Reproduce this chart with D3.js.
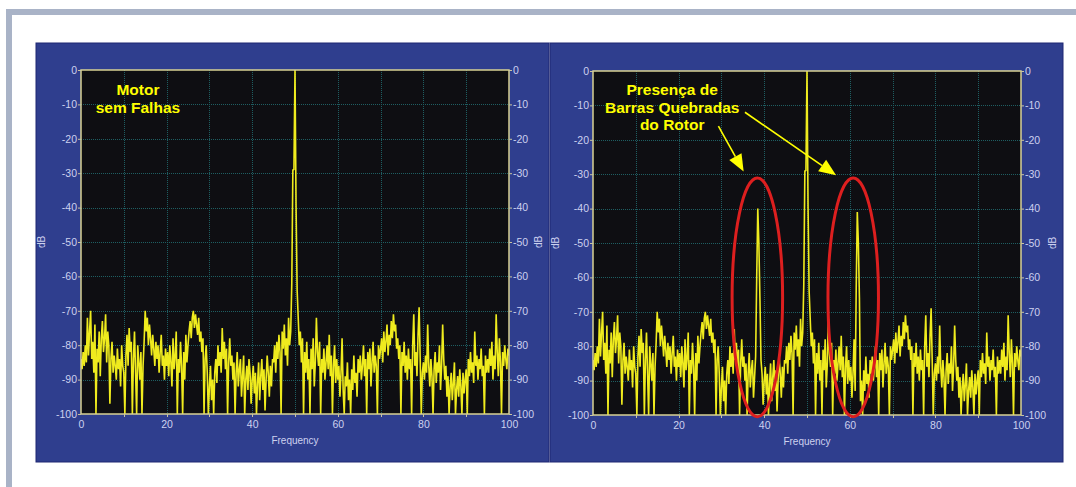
<!DOCTYPE html>
<html>
<head>
<meta charset="utf-8">
<script src="https://cdn.jsdelivr.net/npm/d3@7"></script>
<style>
  body { margin: 0; background: #fff; }
  svg { display: block; }
</style>
</head>
<body>
<div id="chart"></div>
<script>
// spectrum, 0.25 Hz per sample, 0..100 Hz
const freqStep = 0.25;
const healthyDb = [
  -84,-87,-82,-86,-80,-85,-72,-83,-76,-70,-84,-79,-88,-74,-100,-81,-85,-76,-89,-78,
  -73,-82,-78,-71,-85,-76,-80,-97,-84,-79,-88,-83,-86,-90,-81,-87,-84,-92,-80,-86,
  -88,-100,-83,-77,-86,-75,-82,-79,-100,-84,-76,-88,-100,-80,-85,-90,-82,-100,-86,-79,
  -70,-76,-72,-80,-74,-78,-83,-77,-81,-86,-79,-84,-80,-88,-82,-77,-86,-83,-90,-81,
  -86,-82,-89,-80,-85,-92,-78,-87,-83,-76,-100,-84,-88,-79,-86,-100,-82,-90,-77,-85,
  -80,-76,-73,-78,-72,-70,-75,-71,-74,-77,-72,-79,-76,-82,-78,-100,-84,-80,-88,-100,
  -92,-86,-96,-90,-100,-88,-84,-91,-80,-86,-82,-88,-75,-84,-79,-87,-81,-100,-85,-78,
  -86,-83,-90,-85,-100,-88,-82,-92,-87,-84,-95,-89,-83,-100,-90,-86,-93,-84,-88,-97,
  -90,-86,-94,-88,-100,-91,-85,-96,-89,-84,-93,-87,-99,-90,-83,-88,-95,-86,-92,-84,
  -85,-80,-88,-79,-84,-77,-82,-100,-76,-81,-74,-83,-78,-86,-72,-80,-76,-62,-29,-29,
  0,-40,-64,-72,-80,-76,-85,-78,-100,-82,-88,-79,-90,-84,-100,-81,-87,-78,-92,-85,
  -72,-82,-86,-79,-100,-84,-88,-81,-90,-85,-80,-87,-77,-89,-83,-100,-86,-80,-91,-84,
  -90,-86,-95,-88,-78,-93,-100,-89,-92,-85,-96,-90,-100,-87,-93,-83,-91,-88,-95,-84,
  -88,-83,-90,-86,-80,-89,-84,-100,-82,-87,-81,-92,-85,-79,-88,-83,-86,-100,-80,-84,
  -81,-78,-85,-76,-82,-79,-74,-83,-77,-80,-73,-78,-71,-76,-74,-81,-78,-84,-80,-100,
  -82,-86,-79,-88,-83,-90,-81,-87,-84,-100,-80,-71,-86,-82,-89,-77,-69,-84,-100,-88,
  -85,-90,-83,-88,-74,-86,-92,-84,-89,-100,-87,-82,-91,-85,-88,-80,-93,-86,-74,-84,
  -90,-86,-95,-89,-100,-92,-88,-96,-91,-85,-100,-93,-89,-95,-87,-92,-100,-88,-94,-90,
  -87,-100,-84,-89,-82,-88,-85,-91,-76,-86,-83,-90,-84,-87,-81,-89,-86,-100,-83,-88,
  -84,-88,-81,-86,-79,-90,-83,-87,-71,-82,-89,-78,-85,-100,-82,-86,-80,-84,-87,-81,
  -83
];

// sidebands from the broken rotor bars (right panel)
const faultFreqs = [38.25, 38.5, 38.75, 39, 61.5, 61.75, 62, 62.25];
const faultDb = [-60, -40, -50, -66, -63, -41, -50, -66];

const xTicks = [0, 20, 40, 60, 80, 100];
const yTicks = [0, -10, -20, -30, -40, -50, -60, -70, -80, -90, -100];
const gridFreqs = [10, 20, 30, 40, 50, 60, 70, 80, 90];

const healthy = healthyDb.map((db, i) => ({ freq: i * freqStep, db }));
const fault = healthy.map((d) => {
  const k = faultFreqs.indexOf(d.freq);
  return k >= 0 ? { freq: d.freq, db: faultDb[k] } : d;
});

const width = 1076;
const height = 487;

const svg = d3
  .select("#chart")
  .append("svg")
  .attr("width", width)
  .attr("height", height)
  .style("font-family", "'Liberation Sans', Arial, sans-serif");

// grey frame (top + left) of the cropped slide
svg.append("rect").attr("x", 6).attr("y", 9).attr("width", width - 6).attr("height", 6).attr("fill", "#a9b3c7");
svg.append("rect").attr("x", 6).attr("y", 9).attr("width", 6).attr("height", height - 9).attr("fill", "#a9b3c7");

const panels = [
  { x: 36, y: 43, w: 513, h: 419, plot: { left: 81, top: 70, w: 428, h: 344 }, data: healthy },
  { x: 550, y: 43, w: 513, h: 419, plot: { left: 593, top: 71, w: 428, h: 344 }, data: fault },
];

const px = (v) => Math.round(v) + 0.5;

panels.forEach((p, i) => {
  const g = svg.append("g");

  g.append("rect")
    .attr("x", p.x)
    .attr("y", p.y)
    .attr("width", p.w)
    .attr("height", p.h)
    .attr("fill", "#2f3e8e")
    .attr("stroke", "#1f2773")
    .attr("stroke-width", 1);

  const xScale = d3.scaleLinear().domain([0, 100]).range([p.plot.left, p.plot.left + p.plot.w]);
  const yScale = d3.scaleLinear().domain([-100, 0]).range([p.plot.top + p.plot.h, p.plot.top]);

  g.append("rect")
    .attr("x", p.plot.left)
    .attr("y", p.plot.top)
    .attr("width", p.plot.w)
    .attr("height", p.plot.h)
    .attr("fill", "#0e0e12");

  // grid
  g.append("g")
    .selectAll("line")
    .data(gridFreqs)
    .join("line")
    .attr("x1", (d) => px(xScale(d)))
    .attr("x2", (d) => px(xScale(d)))
    .attr("y1", p.plot.top)
    .attr("y2", p.plot.top + p.plot.h)
    .attr("stroke", "#1e5e62")
    .attr("stroke-dasharray", "1,1");
  g.append("g")
    .selectAll("line")
    .data(yTicks.slice(1, -1))
    .join("line")
    .attr("x1", p.plot.left)
    .attr("x2", p.plot.left + p.plot.w)
    .attr("y1", (d) => px(yScale(d)))
    .attr("y2", (d) => px(yScale(d)))
    .attr("stroke", "#1e5e62")
    .attr("stroke-dasharray", "1,1");

  // spectrum
  const clipId = `clip${i}`;
  g.append("clipPath")
    .attr("id", clipId)
    .append("rect")
    .attr("x", p.plot.left)
    .attr("y", p.plot.top)
    .attr("width", p.plot.w)
    .attr("height", p.plot.h);

  const line = d3
    .line()
    .x((d) => xScale(d.freq))
    .y((d) => yScale(d.db));

  g.append("path")
    .datum(p.data)
    .attr("clip-path", `url(#${clipId})`)
    .attr("d", line)
    .attr("fill", "none")
    .attr("stroke", "#efeb1e")
    .attr("stroke-width", 1.6)
    .attr("stroke-linejoin", "bevel");

  g.append("rect")
    .attr("x", p.plot.left)
    .attr("y", p.plot.top)
    .attr("width", p.plot.w)
    .attr("height", p.plot.h)
    .attr("fill", "none")
    .attr("stroke", "#d9d294")
    .attr("stroke-width", 1.5);

  // axes
  const labelColor = "#cdd1ef";
  const styleAxis = (ax) => {
    ax.select(".domain").remove();
    ax.selectAll(".tick line").attr("stroke", "#c8c4a0");
    ax.selectAll(".tick text").attr("fill", labelColor).style("font-size", "10.5px");
  };

  const xAxis = g
    .append("g")
    .attr("transform", `translate(0,${p.plot.top + p.plot.h})`)
    .call(d3.axisBottom(xScale).tickValues(xTicks).tickSize(0).tickPadding(7));
  styleAxis(xAxis);

  g.append("g")
    .selectAll("line")
    .data(gridFreqs)
    .join("line")
    .attr("x1", (d) => px(xScale(d)))
    .attr("x2", (d) => px(xScale(d)))
    .attr("y1", p.plot.top + p.plot.h)
    .attr("y2", p.plot.top + p.plot.h + 3)
    .attr("stroke", "#c8c4a0");

  const fmt = (d) => String(d);
  const yLeft = g
    .append("g")
    .attr("transform", `translate(${p.plot.left},0)`)
    .call(d3.axisLeft(yScale).tickValues(yTicks).tickSize(3).tickPadding(1).tickFormat(fmt));
  styleAxis(yLeft);

  const yRight = g
    .append("g")
    .attr("transform", `translate(${p.plot.left + p.plot.w},0)`)
    .call(d3.axisRight(yScale).tickValues(yTicks).tickSize(3).tickPadding(1).tickFormat(fmt));
  styleAxis(yRight);

  g.append("text")
    .attr("x", p.plot.left + p.plot.w / 2)
    .attr("y", p.plot.top + p.plot.h + 30)
    .attr("text-anchor", "middle")
    .attr("fill", labelColor)
    .style("font-size", "10px")
    .text("Frequency");

  const midY = p.plot.top + p.plot.h / 2;
  [p.x + 9, p.x + p.w - 7].forEach((lx) => {
    g.append("text")
      .attr("transform", `translate(${lx},${midY}) rotate(-90)`)
      .attr("text-anchor", "middle")
      .attr("fill", labelColor)
      .style("font-size", "10px")
      .text("dB");
  });

  p.xScale = xScale;
  p.yScale = yScale;
});

// annotations
const yellow = "#ffff00";
function addTitle(lines, cx, y0) {
  svg
    .append("text")
    .attr("fill", yellow)
    .attr("font-weight", "bold")
    .attr("text-anchor", "middle")
    .style("font-size", "15.5px")
    .selectAll("tspan")
    .data(lines)
    .join("tspan")
    .attr("x", cx)
    .attr("y", (d, k) => y0 + k * 17.5)
    .text((d) => d);
}

const left = panels[0];
const right = panels[1];
addTitle(["Motor", "sem Falhas"], left.xScale(13.3), left.yScale(-7.3));
addTitle(["Presença de", "Barras Quebradas", "do Rotor"], right.xScale(18.5), right.yScale(-7));

function arrow(x1, y1, x2, y2) {
  const ang = Math.atan2(y2 - y1, x2 - x1);
  const len = 17;
  const half = 7;
  const bx = x2 - len * Math.cos(ang);
  const by = y2 - len * Math.sin(ang);
  svg
    .append("line")
    .attr("x1", x1)
    .attr("y1", y1)
    .attr("x2", bx)
    .attr("y2", by)
    .attr("stroke", yellow)
    .attr("stroke-width", 1.6);
  svg
    .append("path")
    .attr(
      "d",
      `M${x2},${y2}L${bx + half * Math.sin(ang)},${by - half * Math.cos(ang)}L${bx - half * Math.sin(ang)},${by + half * Math.cos(ang)}Z`
    )
    .attr("fill", yellow);
}

arrow(right.xScale(29.3), right.yScale(-16), right.xScale(35.2), right.yScale(-29.2));
arrow(right.xScale(35.5), right.yScale(-12), right.xScale(56.8), right.yScale(-30.3));

// red ellipses around the sidebands
[38.4, 60.8].forEach((f) => {
  const cx = right.xScale(f);
  const cy = right.yScale(-65.8);
  svg
    .append("ellipse")
    .attr("cx", cx)
    .attr("cy", cy)
    .attr("rx", right.xScale(f + 5.9) - cx)
    .attr("ry", right.yScale(-100.5) - cy)
    .attr("fill", "none")
    .attr("stroke", "#dd1f1f")
    .attr("stroke-width", 3);
});
</script>
</body>
</html>
